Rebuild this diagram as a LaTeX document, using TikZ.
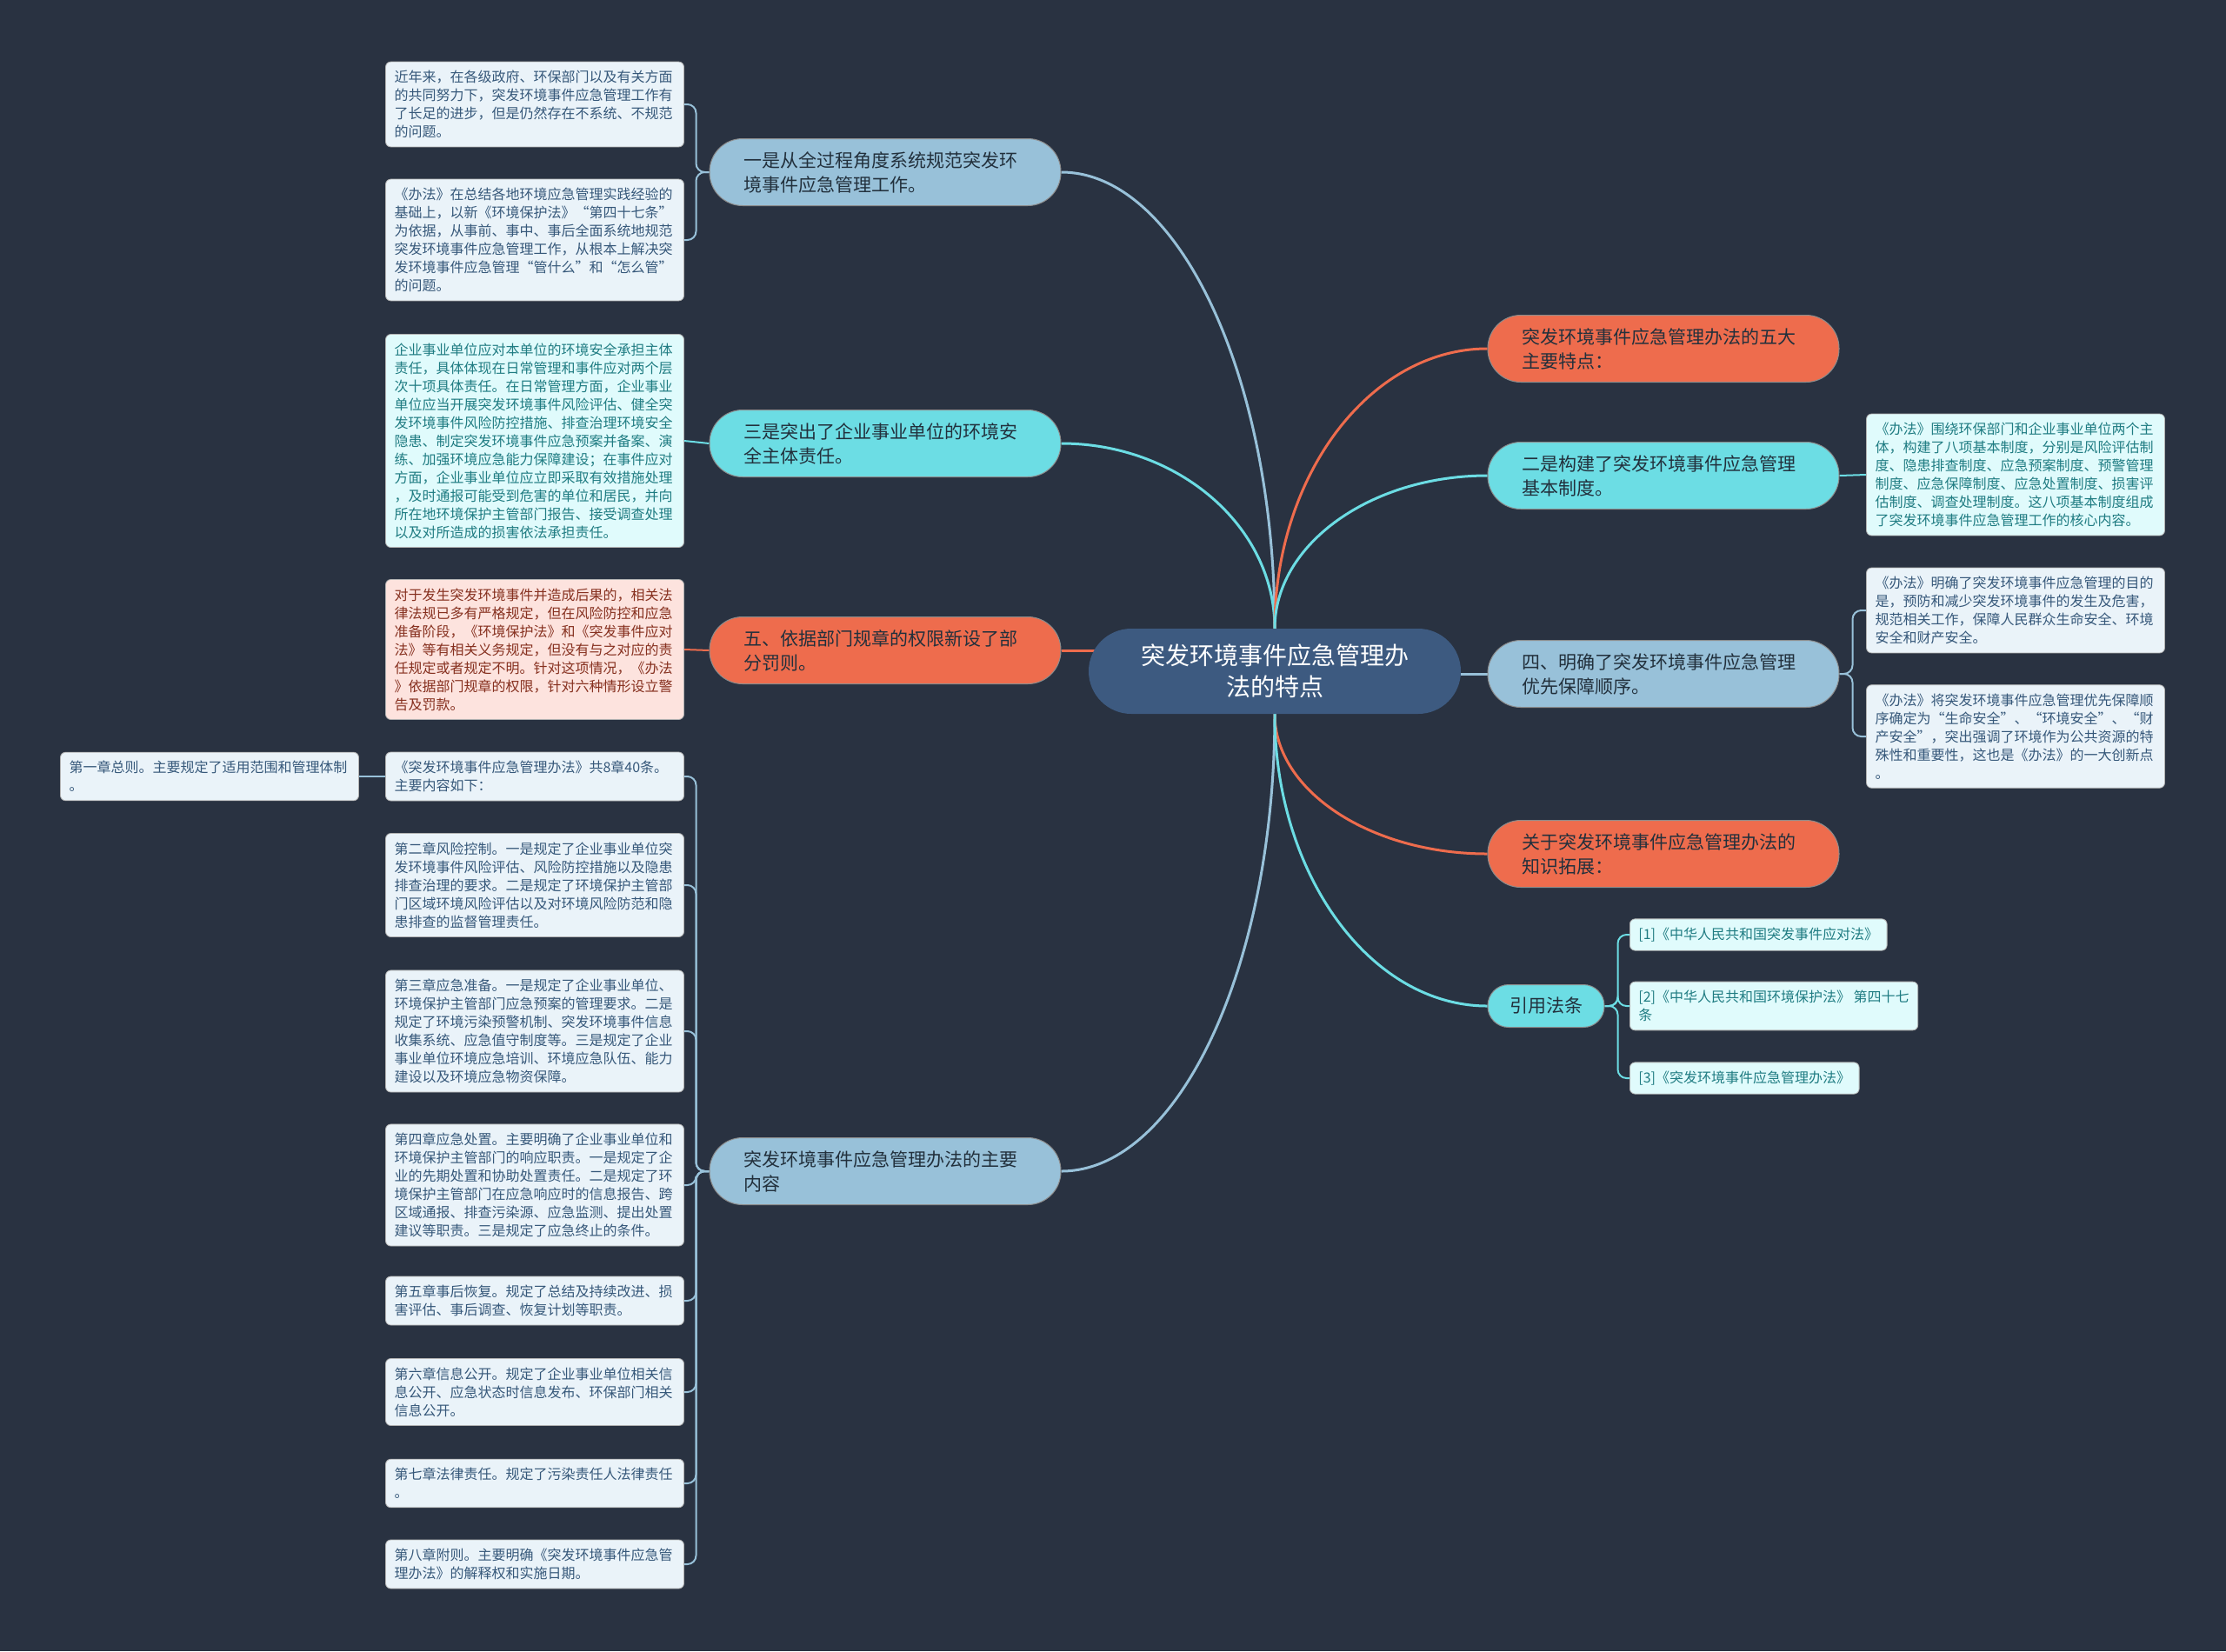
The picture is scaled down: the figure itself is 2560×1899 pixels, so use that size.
\documentclass[tikz,border=0pt]{standalone}
\usepackage{fontspec}
\newfontfamily\cjk{Noto Sans CJK SC}
\usepackage{xcolor}
\definecolor{bgnavy}{HTML}{293241}
\definecolor{rootblue}{HTML}{3D5A80}
\definecolor{skyblue}{HTML}{98C1D9}
\definecolor{aqua}{HTML}{6CDDE4}
\definecolor{coral}{HTML}{EE6C4D}
\definecolor{leafsky}{HTML}{EAF3F9}
\definecolor{leafaqua}{HTML}{E0FBFC}
\definecolor{leafcoral}{HTML}{FDE3DE}
\definecolor{inksky}{HTML}{36587A}
\definecolor{inkaqua}{HTML}{1F7C82}
\definecolor{inkcoral}{HTML}{86301F}
\definecolor{inkdark}{HTML}{22303C}
\usepackage{tikz}
\usetikzlibrary{calc,backgrounds}

\begin{document}
\begin{tikzpicture}[x=1pt,y=-1pt]
  \tikzstyle{root}=[rectangle,fill=rootblue,text=white,minimum width=428pt,minimum height=98pt,rounded corners=49pt,align=center,font=\cjk\fontsize{28}{36}\selectfont]
  \tikzstyle{topic}=[rectangle,draw=black!45,line width=1pt,text width=326pt,inner xsep=39pt,inner ysep=6pt,minimum height=77pt,rounded corners=38pt,align=left,text=inkdark,font=\cjk\fontsize{21}{28}\selectfont]
  \tikzstyle{leaf}=[rectangle,draw=black!30,line width=0.8pt,text width=323pt,inner xsep=10pt,inner ysep=10pt,rounded corners=6pt,align=left,font=\cjk\fontsize{16}{21}\selectfont]
  \tikzstyle{citebox}=[rectangle,draw=black!30,line width=0.8pt,inner xsep=10pt,inner ysep=10pt,rounded corners=6pt,align=left,anchor=west,fill=leafaqua,text=inkaqua,font=\cjk\fontsize{16}{21}\selectfont]
  \tikzstyle{skyleaf}=[leaf,fill=leafsky,text=inksky]
  \tikzstyle{aqualeaf}=[leaf,fill=leafaqua,text=inkaqua]
  \tikzstyle{coralleaf}=[leaf,fill=leafcoral,text=inkcoral]
  \tikzstyle{link}=[line width=3pt]
  \tikzstyle{twig}=[line width=2pt,rounded corners=10pt]
  \tikzstyle{branch}=[to path={.. controls ($(\tikztostart)!0.55!(\tikztostart|-\tikztotarget)$) and ($(\tikztotarget)!0.55!(\tikztostart|-\tikztotarget)$) .. (\tikztotarget)}]

  \useasboundingbox (0,0) rectangle (2560,1899);

  % centre
  \node[root] (root) at (1466,772) {突发环境事件应急管理办\\法的特点};

  % left topics
  \node[topic,fill=skyblue] (one) at (1018,198) {一是从全过程角度系统规范突发环\\境事件应急管理工作。};
  \node[topic,fill=aqua] (three) at (1018,510) {三是突出了企业事业单位的环境安\\全主体责任。};
  \node[topic,fill=coral] (five) at (1018,748) {五、依据部门规章的权限新设了部\\分罚则。};
  \node[topic,fill=skyblue] (content) at (1018,1347) {突发环境事件应急管理办法的主要\\内容};

  % right topics
  \node[topic,fill=coral] (feats) at (1913,401) {突发环境事件应急管理办法的五大\\主要特点：};
  \node[topic,fill=aqua] (two) at (1913,547) {二是构建了突发环境事件应急管理\\基本制度。};
  \node[topic,fill=skyblue] (four) at (1913,775) {四、明确了突发环境事件应急管理\\优先保障顺序。};
  \node[topic,fill=coral] (ext) at (1913,982) {关于突发环境事件应急管理办法的\\知识拓展：};
  \node[rectangle,draw=black!45,line width=1pt,fill=aqua,text=inkdark,minimum width=134pt,minimum height=49pt,rounded corners=24pt,font=\cjk\fontsize{21}{28}\selectfont] (cite) at (1778,1157) {引用法条};

  % left leaves
  \node[skyleaf] (one1) at (615,120) {近年来，在各级政府、环保部门以及有关方面\\的共同努力下，突发环境事件应急管理工作有\\了长足的进步，但是仍然存在不系统、不规范\\的问题。};
  \node[skyleaf] (one2) at (615,276) {《办法》在总结各地环境应急管理实践经验的\\基础上，以新《环境保护法》“第四十七条”\\为依据，从事前、事中、事后全面系统地规范\\突发环境事件应急管理工作，从根本上解决突\\发环境事件应急管理“管什么”和“怎么管”\\的问题。};
  \node[aqualeaf] (three1) at (615,507) {企业事业单位应对本单位的环境安全承担主体\\责任，具体体现在日常管理和事件应对两个层\\次十项具体责任。在日常管理方面，企业事业\\单位应当开展突发环境事件风险评估、健全突\\发环境事件风险防控措施、排查治理环境安全\\隐患、制定突发环境事件应急预案并备案、演\\练、加强环境应急能力保障建设；在事件应对\\方面，企业事业单位应立即采取有效措施处理\\，及时通报可能受到危害的单位和居民，并向\\所在地环境保护主管部门报告、接受调查处理\\以及对所造成的损害依法承担责任。};
  \node[coralleaf] (five1) at (615,747) {对于发生突发环境事件并造成后果的，相关法\\律法规已多有严格规定，但在风险防控和应急\\准备阶段，《环境保护法》和《突发事件应对\\法》等有相关义务规定，但没有与之对应的责\\任规定或者规定不明。针对这项情况，《办法\\》依据部门规章的权限，针对六种情形设立警\\告及罚款。};
  \node[skyleaf] (ch0) at (615,893) {《突发环境事件应急管理办法》共8章40条。\\主要内容如下：};
  \node[skyleaf] (ch1) at (241,893) {第一章总则。主要规定了适用范围和管理体制\\。};
  \node[skyleaf] (ch2) at (615,1018) {第二章风险控制。一是规定了企业事业单位突\\发环境事件风险评估、风险防控措施以及隐患\\排查治理的要求。二是规定了环境保护主管部\\门区域环境风险评估以及对环境风险防范和隐\\患排查的监督管理责任。};
  \node[skyleaf] (ch3) at (615,1186) {第三章应急准备。一是规定了企业事业单位、\\环境保护主管部门应急预案的管理要求。二是\\规定了环境污染预警机制、突发环境事件信息\\收集系统、应急值守制度等。三是规定了企业\\事业单位环境应急培训、环境应急队伍、能力\\建设以及环境应急物资保障。};
  \node[skyleaf] (ch4) at (615,1363) {第四章应急处置。主要明确了企业事业单位和\\环境保护主管部门的响应职责。一是规定了企\\业的先期处置和协助处置责任。二是规定了环\\境保护主管部门在应急响应时的信息报告、跨\\区域通报、排查污染源、应急监测、提出处置\\建议等职责。三是规定了应急终止的条件。};
  \node[skyleaf] (ch5) at (615,1496) {第五章事后恢复。规定了总结及持续改进、损\\害评估、事后调查、恢复计划等职责。};
  \node[skyleaf] (ch6) at (615,1601) {第六章信息公开。规定了企业事业单位相关信\\息公开、应急状态时信息发布、环保部门相关\\信息公开。};
  \node[skyleaf] (ch7) at (615,1706) {第七章法律责任。规定了污染责任人法律责任\\。};
  \node[skyleaf] (ch8) at (615,1799) {第八章附则。主要明确《突发环境事件应急管\\理办法》的解释权和实施日期。};

  % right leaves
  \node[aqualeaf] (two1) at (2318,546) {《办法》围绕环保部门和企业事业单位两个主\\体，构建了八项基本制度，分别是风险评估制\\度、隐患排查制度、应急预案制度、预警管理\\制度、应急保障制度、应急处置制度、损害评\\估制度、调查处理制度。这八项基本制度组成\\了突发环境事件应急管理工作的核心内容。};
  \node[skyleaf] (four1) at (2318,702) {《办法》明确了突发环境事件应急管理的目的\\是，预防和减少突发环境事件的发生及危害，\\规范相关工作，保障人民群众生命安全、环境\\安全和财产安全。};
  \node[skyleaf] (four2) at (2318,847) {《办法》将突发环境事件应急管理优先保障顺\\序确定为“生命安全”、“环境安全”、“财\\产安全”，突出强调了环境作为公共资源的特\\殊性和重要性，这也是《办法》的一大创新点\\。};
  \node[citebox] (cite1) at (1874,1075) {[1]《中华人民共和国突发事件应对法》};
  \node[citebox] (cite2) at (1874,1157) {[2]《中华人民共和国环境保护法》 第四十七\\条};
  \node[citebox] (cite3) at (1874,1240) {[3]《突发环境事件应急管理办法》};

  \begin{scope}[on background layer]
    \fill[bgnavy] (0,0) rectangle (2560,1899);
    % centre to topics
    \draw[link,skyblue] (root.north) to[branch] (one.east);
    \draw[link,aqua] (root.north) to[branch] (three.east);
    \draw[link,coral] (five.east) -- (five.east -| root.center);
    \draw[link,skyblue] (root.south) to[branch] (content.east);
    \draw[link,coral] (root.north) to[branch] (feats.west);
    \draw[link,aqua] (root.north) to[branch] (two.west);
    \draw[link,skyblue] (four.west) -- (four.west -| root.center);
    \draw[link,coral] (root.south) to[branch] (ext.west);
    \draw[link,aqua] (root.south) to[branch] (cite.west);
    % topics to leaves
    \draw[twig,skyblue] (one.west) -- ++(-15,0) |- (one1.east);
    \draw[twig,skyblue] (one.west) -- ++(-15,0) |- (one2.east);
    \draw[twig,aqua] (three.west) -- (three1.east);
    \draw[twig,coral] (five.west) -- (five1.east);
    \foreach \ch in {ch0,ch2,ch3,ch4,ch5,ch6,ch7,ch8}
      \draw[twig,skyblue] (content.west) -- ++(-15,0) |- (\ch.east);
    \draw[twig,skyblue] (ch0.west) -- (ch1.east);
    \draw[twig,aqua] (two.east) -- (two1.west);
    \draw[twig,skyblue] (four.east) -- ++(15,0) |- (four1.west);
    \draw[twig,skyblue] (four.east) -- ++(15,0) |- (four2.west);
    \foreach \c in {cite1,cite2,cite3}
      \draw[twig,aqua] (cite.east) -- ++(15,0) |- (\c.west);
  \end{scope}
\end{tikzpicture}
\end{document}
